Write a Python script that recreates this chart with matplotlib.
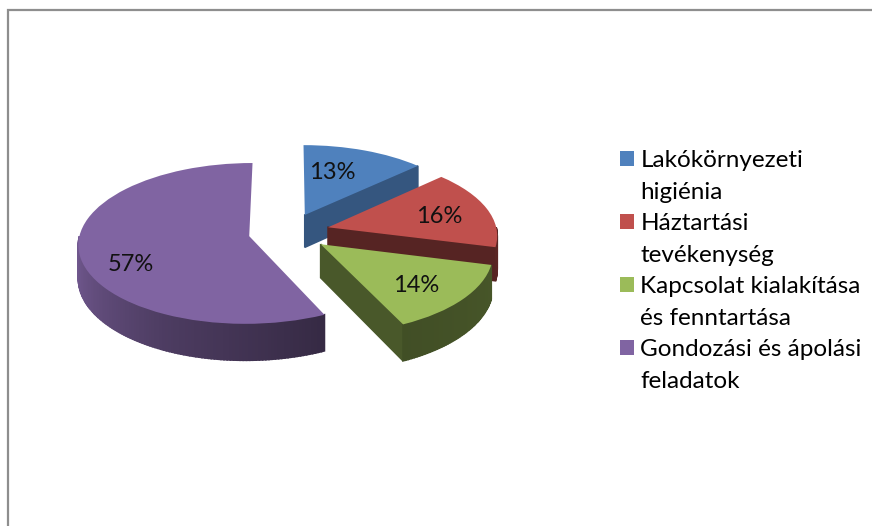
"""
exploded 3d looking pie chart, share of care activities
"""

import numpy as np
import matplotlib
matplotlib.use('Agg')
import matplotlib.pyplot as plt
from matplotlib.patches import Patch
from matplotlib.transforms import Transform

# data
categories = ['Lakókörnyezeti\nhigiénia', 'Háztartási\ntevékenység',
              'Kapcsolat kialakítása\nés fenntartása', 'Gondozási és ápolási\nfeladatok']
values = [13, 16, 14, 57]

# look
colors = ['#4F81BD', '#C0504D', '#9BBB59', '#8064A2']
cut_shade = [0.67, 0.45, 0.47, 0.45]
label_nudge = [(-9, -3), (15, 1), (12, 9), (-17, 18)]

CX, CY = 289, 232     # pie centre in pixels
RX, RY = 169, 79      # pie radius in pixels
TILT = 0.09           # perspective strength
DEPTH = 33            # thickness of the pie


def project(x, y, z=0):
    s = 1 / (1 + TILT * np.asarray(y))
    return CX + RX * np.asarray(x) * s, CY - RY * np.asarray(y) * s + z * s


class PieProjection(Transform):
    input_dims = output_dims = 2

    def transform_non_affine(self, values):
        px, py = project(values[:, 0], values[:, 1])
        return np.column_stack([px, py])


def darker(color, f):
    return tuple(c * f for c in matplotlib.colors.to_rgb(color))


def wall(ax, x, y, color, zorder):
    # quad strip going from the top face down by DEPTH
    tx, ty = project(x, y)
    bx, by = project(x, y, DEPTH)
    ax.fill(np.r_[tx, bx[::-1]], np.r_[ty, by[::-1]], color=color, lw=1.2, zorder=zorder)


fig = plt.figure(figsize=(8.72, 5.26), dpi=100)
ax = fig.add_axes([0, 0, 1, 1])
plt.rcParams['font.family'] = ['Lato', 'DejaVu Sans']

wedges, texts, autotexts = ax.pie(values, explode=[0.24] * 4, colors=colors, startangle=90,
                                  counterclock=False, autopct='%d%%', pctdistance=0.6,
                                  textprops={'fontsize': 17, 'color': '#111111', 'family': 'Lato'})
ax.set_aspect('auto')
ax.set_xlim(0, 872)
ax.set_ylim(526, 0)
projection = PieProjection() + ax.transData

for i, w in enumerate(wedges):
    w.set_transform(projection)
    w.set_zorder(3 * i + 2)
    cx, cy = w.center

    # cut faces, only the ones looking at the viewer
    for phi, sign in [(w.theta1, 1), (w.theta2, -1)]:
        a = np.radians(phi)
        if sign * np.cos(a) > 1e-6:
            wall(ax, np.array([cx, cx + np.cos(a)]), np.array([cy, cy + np.sin(a)]),
                 darker(colors[i], cut_shade[i]), 3 * i)

    # outer rim, split up so it can carry the shading
    lo, hi = max(w.theta1, -180), min(w.theta2, 0)
    if hi > lo:
        steps = np.linspace(lo, hi, int(hi - lo) + 2)
        for j, (p0, p1) in enumerate(zip(steps[:-1], steps[1:])):
            a = np.radians(np.array([p0, p1]))
            f = np.interp((p0 + p1) / 2, [-180, -150, -115, -65, 0], [0.92, 0.78, 0.6, 0.42, 0.47])
            # later strips go on top so the overlap never shows as stripes
            wall(ax, cx + np.cos(a), cy + np.sin(a), darker(colors[i], f), 3 * i + 1 + j * 1e-3)

    # percent label
    mid = np.radians((w.theta1 + w.theta2) / 2)
    px, py = project(cx + 0.6 * np.cos(mid), cy + 0.6 * np.sin(mid))
    t = autotexts[i]
    t.set_transform(ax.transData)
    t.set_position((px + label_nudge[i][0], py + label_nudge[i][1]))
    t.set_zorder(20)

for t in texts:
    t.set_visible(False)

# the grey border of the chart area, only left and top survive the crop
ax.plot([8, 8, 872], [526, 10, 10], color='#8E8E8E', lw=1.6, zorder=30, solid_joinstyle='miter')

# one legend row per text line, the swatch only sits on the first line of an entry
handles, rows = [], []
for w, name in zip(wedges, categories):
    for k, line in enumerate(name.split('\n')):
        handles.append(w if k == 0 else Patch(alpha=0))
        rows.append(line)

ax.legend(handles, rows, loc='upper left', bbox_to_anchor=(620 / 872, 1 - 150 / 526),
          frameon=False, prop={'family': 'Lato', 'size': 17.5}, handlelength=0.58, handleheight=0.58,
          handletextpad=0.26, labelspacing=0.435, borderpad=0, borderaxespad=0)

fig.savefig('out.png', dpi=100)
